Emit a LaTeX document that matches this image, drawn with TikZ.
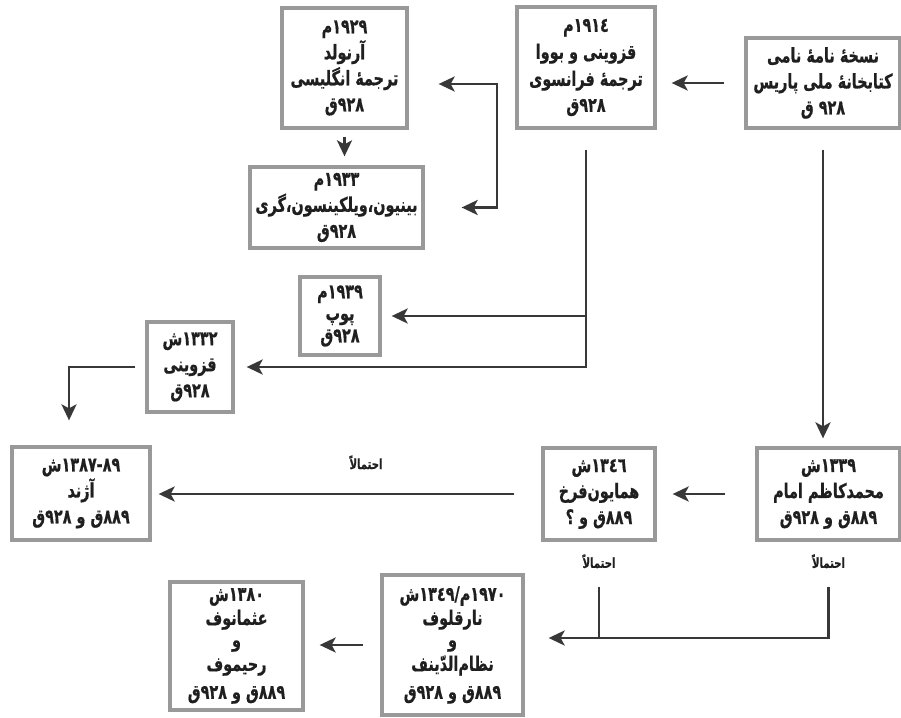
\documentclass[tikz,border=0pt]{standalone}
\usepackage{fontspec}
\usepackage{xcolor}
\usetikzlibrary{arrows.meta, calc, positioning}
\newfontfamily\farsi[Script=Arabic, FakeStretch = 0.72, FakeBold = 0.6]{DejaVu Sans}
\TeXXeTstate=1
\newcommand{\fal}[1]{\beginR #1\endR}
\definecolor{boxgray}{HTML}{999999}
\definecolor{linegray}{HTML}{383838}
\tikzset{> = { Stealth[length = 16pt, width = 15pt, inset = 4pt] }}

\begin{document}
\begin{tikzpicture}[x = 1pt, y = -1pt, ->, color = linegray, line width = 2.6pt,
		box/.style = { draw = boxgray, line width = 3.3pt, fill = white, text = black!88, align = center, inner sep = 1pt, font = \farsi\bfseries\fontsize{20}{26}\selectfont },
		prob/.style = { text = black!88, font = \farsi\bfseries\fontsize{14}{15}\selectfont }]
		\useasboundingbox (0, 0) rectangle (901, 717);

		\node [box, minimum width = 154pt, minimum height = 90pt]  (paris)   at (823, 83)    {\fal{نسخهٔ نامهٔ نامی}\\\fal{کتابخانهٔ ملی پاریس}\\\fal{٩٢٨ ق}};
		\node [box, minimum width = 138pt, minimum height = 121pt] (qazv)    at (586, 67.5)  {\fal{١٩١٤م}\\[1pt]\fal{قزوینی و بووا}\\[1pt]\fal{ترجمهٔ فرانسوی}\\\fal{٩٢٨ق}};
		\node [box, minimum width = 125pt, minimum height = 120pt] (arnold)  at (344.5, 68)  {\fal{١٩٢٩م}\\\fal{آرنولد}\\\fal{ترجمهٔ انگلیسی}\\\fal{٩٢٨ق}};
		\node [box, minimum width = 173pt, minimum height = 81pt]  (binyon)  at (336.5, 207.5) {\fal{١٩٣٣م}\\\fal{بینیون،ویلکینسون،گری}\\\fal{٩٢٨ق}};
		\node [box, minimum width = 80pt, minimum height = 78pt]   (pope)    at (340, 316)   {\fal{١٩٣٩م}\\[-4pt]\fal{پوپ}\\[-4pt]\fal{٩٢٨ق}};
		\node [box, minimum width = 86pt, minimum height = 90pt]   (qazvB)   at (190, 367)   {\fal{١٣٣٢ش}\\\fal{قزوینی}\\\fal{٩٢٨ق}};
		\node [box, minimum width = 138pt, minimum height = 93pt]  (azhand)  at (81, 493.5)  {\fal{۱۳۸۷-۸۹ش}\\\fal{آژند}\\\fal{٨٨٩ق و ٩٢٨ق}};
		\node [box, minimum width = 112pt, minimum height = 92pt]  (homayun) at (599, 494)   {\fal{١٣٤٦ش}\\\fal{همایون‌فرخ}\\\fal{٨٨٩ق و ؟}};
		\node [box, minimum width = 143pt, minimum height = 92pt]  (emam)    at (828.5, 494) {\fal{١٣٣٩ش}\\\fal{محمدکاظم امام}\\\fal{٨٨٩ق و ٩٢٨ق}};
		\node [box, minimum width = 141pt, minimum height = 140pt] (narq)    at (452.5, 645) {\fal{١٩٧٠م/١٣٤٩ش}\\[-2pt]\fal{نارقلوف}\\[-4pt]\fal{و}\\[-2pt]\fal{نظام‌الدّینف}\\[2pt]\fal{٨٨٩ق و ٩٢٨ق}};
		\node [box, minimum width = 133pt, minimum height = 128pt] (osman)   at (236.5, 646) {\fal{١٣٨٠ش}\\[-2pt]\fal{عثمانوف}\\[-4pt]\fal{و}\\[-2pt]\fal{رحیموف}\\[2pt]\fal{٨٨٩ق و ٩٢٨ق}};

		\node [prob, below = 8pt of homayun] (probA) {\fal{احتمالاً}};
		\node [prob, below = 8pt of emam]    (probB) {\fal{احتمالاً}};
		\coordinate (fork) at (497, 84);
		\coordinate (narqin) at ($(narq.east) + (0, -7)$);

		\draw [shorten <= 20pt, shorten >= 15pt] (paris.west) -- (paris.west -| qazv.east);
		\draw [<->, shorten <= 30pt, shorten >= 37pt] (arnold.east |- fork) -- (fork) |- (binyon.east);
		\draw [shorten <= 7pt, shorten >= 9pt] (arnold.south) -- (arnold.south |- binyon.north);
		\draw [shorten <= 20pt, shorten >= 12pt] (qazv.south) |- (qazvB.east);
		\draw [shorten >= 10pt] (qazv.south |- pope.east) -- (pope.east);
		\draw [shorten <= 10pt, shorten >= 25pt] (qazvB.west) -| ($(azhand.north) + (-12, 0)$);
		\draw [shorten <= 20pt, shorten >= 8pt] (paris.south) -- (paris.south |- emam.north);
		\draw [shorten <= 30pt, shorten >= 16pt] (emam.west) -- (emam.west -| homayun.east);
		\draw [shorten <= 27pt, shorten >= 7pt] (homayun.west) -- node [prob, above = 20pt, pos = 0.45] {\fal{احتمالاً}} (homayun.west -| azhand.east);
		\draw [-, shorten <= 14pt] (probA) -- (probA |- narqin);
		\draw [shorten <= 14pt, shorten >= 24pt] (probB) |- (narqin);
		\draw [shorten <= 17pt, shorten >= 15pt] (narq.west) -- (narq.west -| osman.east);
	\end{tikzpicture}
\end{document}
